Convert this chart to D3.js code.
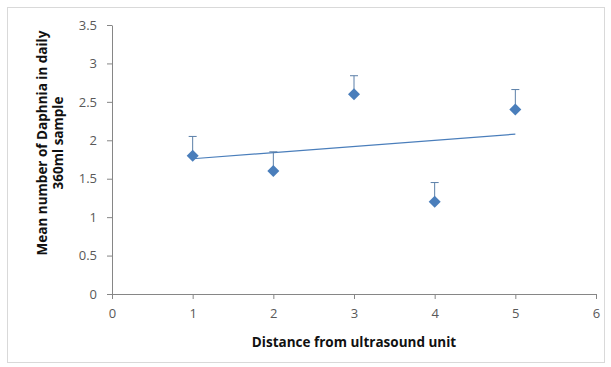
<!DOCTYPE html>
<html>
<head>
<meta charset="utf-8">
<script src="https://cdn.jsdelivr.net/npm/d3@7"></script>
<style>
  body { margin: 0; background: #fff; }
  text { font-family: "Open Sans", "Liberation Sans", sans-serif; }
</style>
</head>
<body>
<div id="container"></div>
<script>
/* CONSTANTS AND GLOBALS */
const width = 611;
const height = 367;
const margin = { top: 25, right: 15, bottom: 73, left: 112 };

/* DATA */
const distances = [1, 2, 3, 4, 5];
const meanDaphnia = [1.8, 1.6, 2.6, 1.2, 2.4];
const errorUp = [0.25, 0.25, 0.24, 0.25, 0.26];
const xTicks = [0, 1, 2, 3, 4, 5, 6];
const yTicks = [0, 0.5, 1, 1.5, 2, 2.5, 3, 3.5];

const data = distances.map((d, i) => ({ x: d, y: meanDaphnia[i], err: errorUp[i] }));

const blue = "#4a7ebb";

/* SVG */
const svg = d3.select("#container")
  .append("svg")
  .attr("width", width)
  .attr("height", height);

// chart border
svg.append("rect")
  .attr("x", 7.5).attr("y", 7.5)
  .attr("width", 597).attr("height", 355)
  .attr("fill", "#fff")
  .attr("stroke", "#d9d9d9");

/* SCALES */
const xScale = d3.scaleLinear()
  .domain([0, 6])
  .range([margin.left, 596]);

const yScale = d3.scaleLinear()
  .domain([0, 3.5])
  .range([294, margin.top]);

/* AXES */
const xAxis = svg.append("g")
  .attr("transform", `translate(0, ${yScale(0)})`)
  .call(d3.axisBottom(xScale).tickValues(xTicks).tickFormat(d3.format("d")).tickSize(5).tickSizeOuter(0));

const yAxis = svg.append("g")
  .attr("transform", `translate(${xScale(0)}, 0)`)
  .call(d3.axisLeft(yScale).tickValues(yTicks).tickFormat(d => d).tickSize(5).tickSizeOuter(0));

[xAxis, yAxis].forEach(ax => {
  ax.select(".domain").attr("stroke", "#868686");
  ax.selectAll(".tick line").attr("stroke", "#868686");
  ax.selectAll(".tick text")
    .attr("fill", "#595959")
    .style("font-size", "13px")
    .style("font-family", "'Open Sans', sans-serif");
});
xAxis.selectAll(".tick text").attr("dy", "1.2em");
yAxis.selectAll(".tick text").attr("x", -15);

/* TREND LINE (least squares) */
const mx = d3.mean(distances), my = d3.mean(meanDaphnia);
const slope = d3.sum(data, d => (d.x - mx) * (d.y - my)) / d3.sum(data, d => (d.x - mx) ** 2);
const intercept = my - slope * mx;
const xExt = d3.extent(distances);

svg.append("line")
  .attr("x1", xScale(xExt[0])).attr("y1", yScale(intercept + slope * xExt[0]))
  .attr("x2", xScale(xExt[1])).attr("y2", yScale(intercept + slope * xExt[1]))
  .attr("stroke", blue)
  .attr("stroke-width", 1.2);

/* ERROR BARS (plus only) */
const errG = svg.append("g").attr("stroke", "#5b7fa8").attr("stroke-width", 1);
errG.selectAll(".stem")
  .data(data)
  .join("line")
  .attr("x1", d => xScale(d.x)).attr("x2", d => xScale(d.x))
  .attr("y1", d => yScale(d.y)).attr("y2", d => yScale(d.y + d.err));
errG.selectAll(".cap")
  .data(data)
  .join("line")
  .attr("x1", d => xScale(d.x) - 4).attr("x2", d => xScale(d.x) + 4)
  .attr("y1", d => yScale(d.y + d.err)).attr("y2", d => yScale(d.y + d.err));

/* MARKERS */
svg.selectAll(".pt")
  .data(data)
  .join("path")
  .attr("d", d3.symbol(d3.symbolSquare, 72))
  .attr("transform", d => `translate(${xScale(d.x)}, ${yScale(d.y)}) rotate(45)`)
  .attr("fill", blue);

/* TITLES */
svg.append("text")
  .attr("x", 354).attr("y", 347)
  .attr("text-anchor", "middle")
  .style("font-size", "13.5px").style("font-weight", "bold")
  .attr("fill", "#111")
  .text("Distance from ultrasound unit");

const yTitle = svg.append("text")
  .attr("transform", "translate(47, 143) rotate(-90)")
  .attr("text-anchor", "middle")
  .style("font-size", "13.5px").style("font-weight", "bold")
  .attr("fill", "#111");
yTitle.append("tspan").attr("x", 0).attr("y", 0).text("Mean number of Daphnia in daily");
yTitle.append("tspan").attr("x", 0).attr("y", 16).text("360ml sample");
</script>
</body>
</html>
